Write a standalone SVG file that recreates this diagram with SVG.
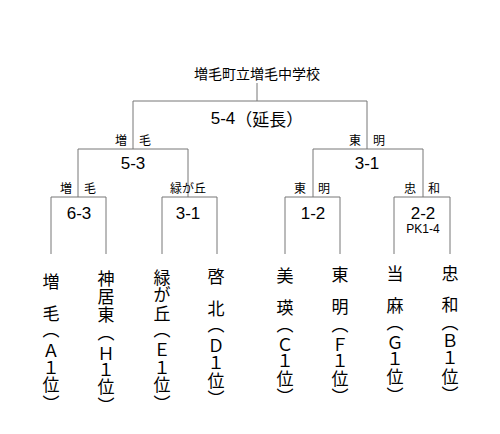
<svg xmlns="http://www.w3.org/2000/svg" width="500" height="434" viewBox="0 0 500 434">
<style>
text{font-family:"Liberation Sans","Noto Sans CJK JP",sans-serif;fill:#000;text-anchor:middle;dominant-baseline:central}
.cjk{font-family:"Noto Sans CJK JP",sans-serif}
.title{font-size:14px}
.score{font-size:17px}
.lab{font-size:12px}
.pk{font-size:12px}
.v{font-size:17px;font-family:"Noto Sans CJK JP",sans-serif}
.ln{stroke:#777;stroke-width:1;fill:none}
</style>
<rect width="500" height="434" fill="#fff"/>
<g id="connectors" class="ln">
<path d="M257,83V101M133,149V101H367V149"/>
<path d="M78,197V149H188V197M313,197V149H423V197"/>
<path d="M51,254V197H106V254M162,254V197H217V254"/>
<path d="M285,254V197H340V254M394,254V197H450V254"/>
</g>
<g id="title"><text class="title cjk" x="257" y="73">増毛町立増毛中学校</text></g>
<g id="final"><text class="score" x="257" y="118">5-4<tspan class="cjk">（延長）</tspan></text></g>
<g id="sf-left"><text class="lab cjk" x="133" y="139">増　毛</text><text class="score" x="133" y="163">5-3</text></g>
<g id="sf-right"><text class="lab cjk" x="367" y="139">東　明</text><text class="score" x="367" y="163">3-1</text></g>
<g id="qf1"><text class="lab cjk" x="78" y="187">増　毛</text><text class="score" x="79" y="213">6-3</text></g>
<g id="qf2"><text class="lab cjk" x="188" y="187">緑が丘</text><text class="score" x="188" y="213">3-1</text></g>
<g id="qf3"><text class="lab cjk" x="312" y="187">東　明</text><text class="score" x="313" y="213">1-2</text></g>
<g id="qf4"><text class="lab cjk" x="422" y="187">忠　和</text><text class="score" x="423" y="213">2-2</text><text class="pk" x="423" y="229">PK1-4</text></g>
<g id="team-A">
<text class="v" x="51" y="280">増</text><text class="v" x="51" y="312">毛</text><text class="v" x="51" y="328">︵</text><text class="v" x="51" y="349">Ａ</text><text class="v" x="51" y="366">１</text><text class="v" x="51" y="383">位</text><text class="v" x="51" y="402">︶</text>
</g>
<g id="team-H">
<text class="v" x="106" y="277">神</text><text class="v" x="106" y="295">居</text><text class="v" x="106" y="313">東</text><text class="v" x="106" y="331">︵</text><text class="v" x="106" y="352">Ｈ</text><text class="v" x="106" y="368">１</text><text class="v" x="106" y="385">位</text><text class="v" x="106" y="404">︶</text>
</g>
<g id="team-E">
<text class="v" x="162" y="276">緑</text><text class="v" x="162" y="293">が</text><text class="v" x="162" y="312">丘</text><text class="v" x="162" y="328">︵</text><text class="v" x="162" y="348">Ｅ</text><text class="v" x="162" y="366">１</text><text class="v" x="162" y="383">位</text><text class="v" x="162" y="402">︶</text>
</g>
<g id="team-D">
<text class="v" x="216" y="275">啓</text><text class="v" x="216" y="307">北</text><text class="v" x="216" y="323">︵</text><text class="v" x="216" y="344">Ｄ</text><text class="v" x="216" y="361">１</text><text class="v" x="216" y="379">位</text><text class="v" x="216" y="397">︶</text>
</g>
<g id="team-C">
<text class="v" x="285" y="274">美</text><text class="v" x="285" y="306">瑛</text><text class="v" x="285" y="323">︵</text><text class="v" x="285" y="343">Ｃ</text><text class="v" x="285" y="359">１</text><text class="v" x="285" y="377">位</text><text class="v" x="285" y="395">︶</text>
</g>
<g id="team-F">
<text class="v" x="340" y="273">東</text><text class="v" x="340" y="305">明</text><text class="v" x="340" y="323">︵</text><text class="v" x="340" y="343">Ｆ</text><text class="v" x="340" y="359">１</text><text class="v" x="340" y="377">位</text><text class="v" x="340" y="395">︶</text>
</g>
<g id="team-G">
<text class="v" x="395" y="272">当</text><text class="v" x="395" y="304">麻</text><text class="v" x="395" y="321">︵</text><text class="v" x="395" y="341">Ｇ</text><text class="v" x="395" y="357">１</text><text class="v" x="395" y="375">位</text><text class="v" x="395" y="394">︶</text>
</g>
<g id="team-B">
<text class="v" x="450" y="272">忠</text><text class="v" x="450" y="303">和</text><text class="v" x="450" y="321">︵</text><text class="v" x="450" y="339">Ｂ</text><text class="v" x="450" y="356">１</text><text class="v" x="450" y="375">位</text><text class="v" x="450" y="393">︶</text>
</g>
</svg>
